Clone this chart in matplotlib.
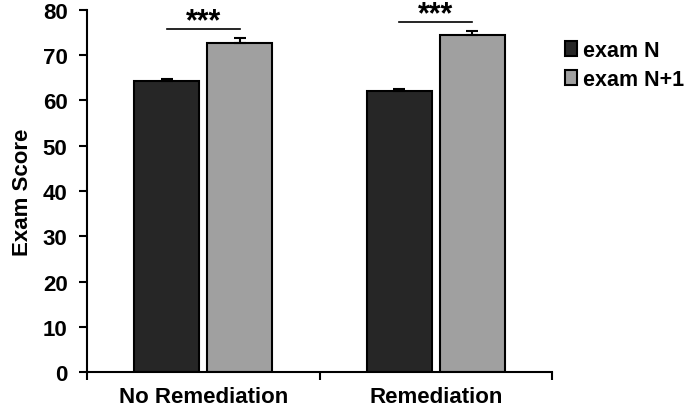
import matplotlib.pyplot as plt
import numpy as np

plt.rcParams['font.family'] = ['Liberation Sans', 'DejaVu Sans']
plt.rcParams['font.weight'] = 'bold'

categories = ["No Remediation", "Remediation"]
exam_n = [64.2, 62.0]
exam_n_err = [0.6, 0.6]
exam_n1 = [72.8, 74.4]
exam_n1_err = [1.0, 0.9]
sig_line_y = [75.9, 77.4]
sig_star_y = [77.5, 79.0]
sig_labels = ["***", "***"]

x = np.arange(len(categories))
w = 0.28
off = 0.157

fig = plt.figure(figsize=(6.87, 4.10), dpi=100)
ax = fig.add_axes([0.1266, 0.0902, 0.677, 0.883])

err_kw = dict(ecolor="black", elinewidth=1.5, capsize=4, capthick=1.5)
ax.bar(x - off, exam_n, w, color="#262626", edgecolor="black", linewidth=1.5,
       yerr=[[0, 0], exam_n_err], error_kw=err_kw, label="exam N")
ax.bar(x + off, exam_n1, w, color="#a0a0a0", edgecolor="black", linewidth=1.5,
       yerr=[[0, 0], exam_n1_err], error_kw=err_kw, label="exam N+1")

for i, (y, s) in enumerate(zip(sig_line_y, sig_labels)):
    ax.plot([x[i] - off, x[i] + off], [y, y], color="black", lw=1.2, clip_on=False)
    ax.text(x[i], sig_star_y[i], s, ha="center", va="center", fontsize=22,
            fontweight="bold", clip_on=False)

ax.set_xlim(-0.5, 1.5)
ax.set_ylim(0, 80)
ax.set_yticks(np.arange(0, 81, 10))
ax.set_xticks([-0.5, 0.5, 1.5])
ax.set_xticklabels([])
ax.set_xticks(x, minor=True)
ax.set_xticklabels(categories, minor=True, fontsize=16, fontweight="bold")
ax.tick_params(axis="x", which="minor", length=0, pad=10)
ax.tick_params(axis="x", which="major", direction="out", length=6, width=1.5)
ax.tick_params(axis="y", direction="out", length=6, width=1.5, labelsize=16, pad=8)
for lbl in ax.get_yticklabels():
    lbl.set_fontweight("bold")
ax.set_ylabel("Exam Score", fontsize=16, fontweight="bold", labelpad=7)

for sp in ["top", "right"]:
    ax.spines[sp].set_visible(False)
for sp in ["left", "bottom"]:
    ax.spines[sp].set_linewidth(1.5)

leg = ax.legend(loc="upper left", bbox_to_anchor=(1.01, 0.94), frameon=False,
                prop={"size": 15.5, "weight": "bold"}, handlelength=0.55,
                handleheight=0.7, handletextpad=0.25, labelspacing=0.35,
                borderaxespad=0)

fig.savefig("out.png", dpi=100)
